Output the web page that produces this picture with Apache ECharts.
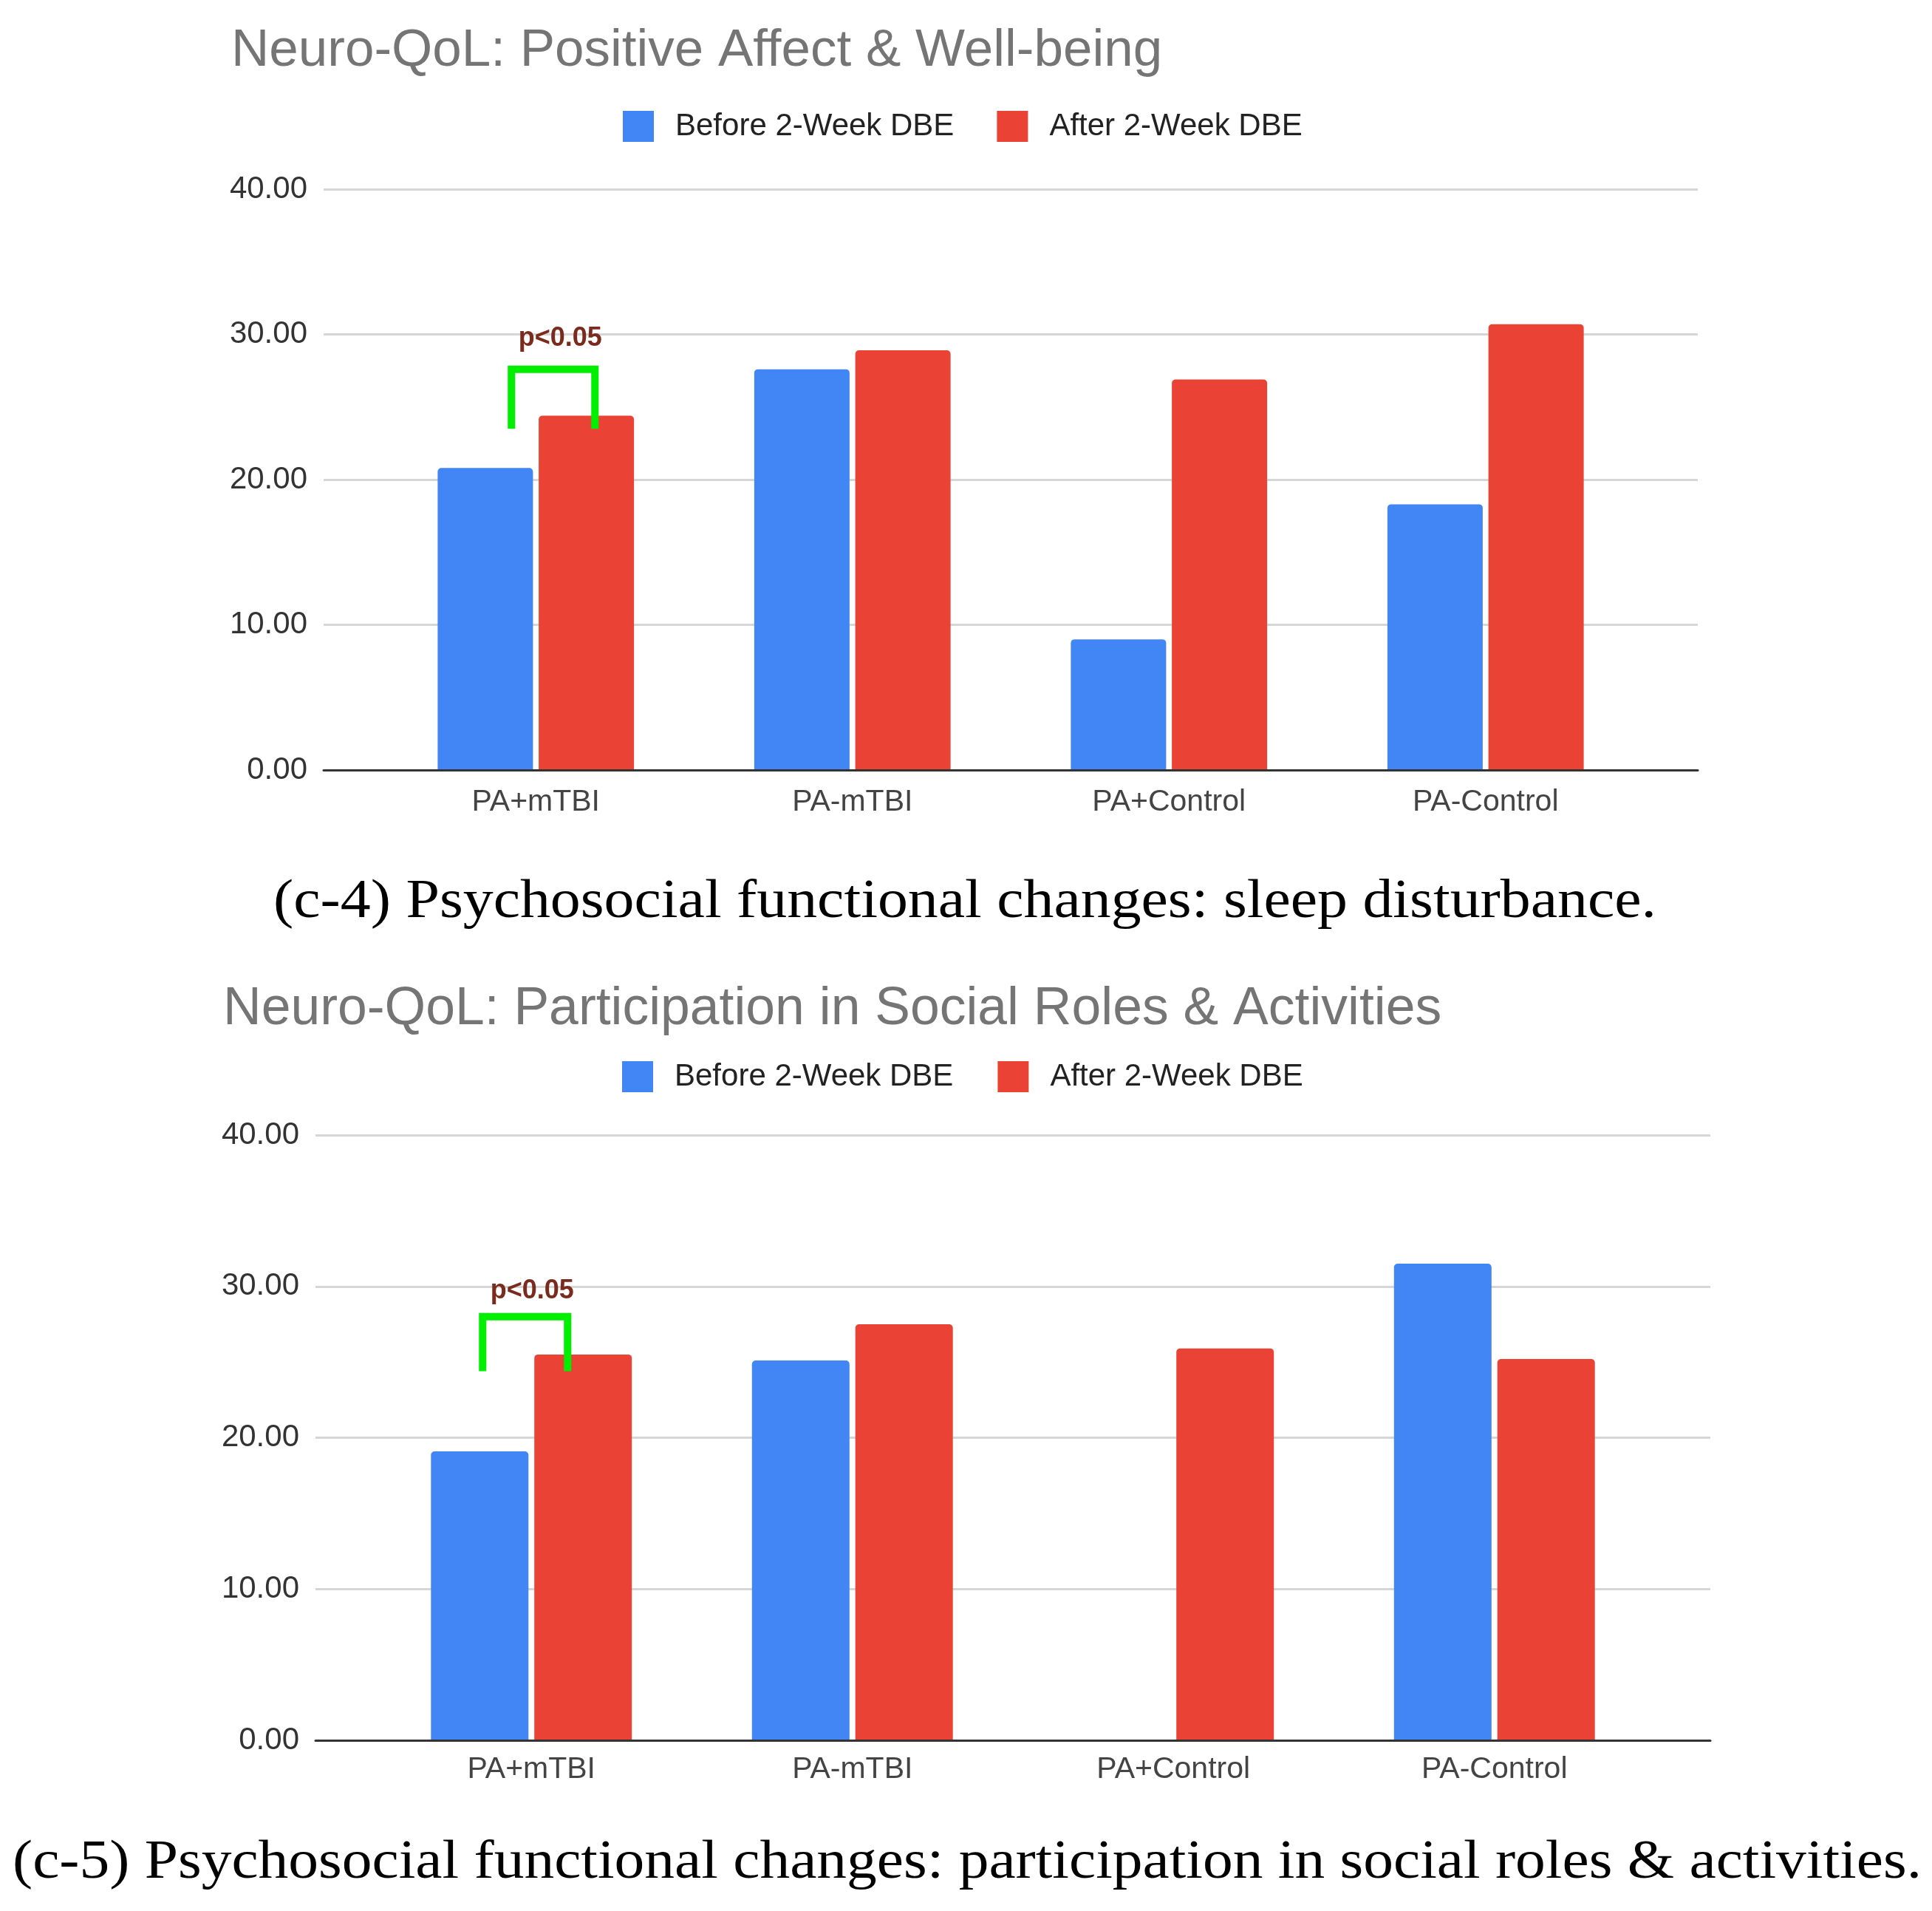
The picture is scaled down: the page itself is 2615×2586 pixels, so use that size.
<!DOCTYPE html>
<html>
<head>
<meta charset="utf-8">
<script src="https://cdn.jsdelivr.net/npm/echarts@6/dist/echarts.min.js"></script>
<style>
  html, body { margin: 0; padding: 0; background: #fff; }
  #main { width: 2615px; height: 2586px; }
</style>
</head>
<body>
<div id="main"></div>
<script>
// data
var categories = ['PA+mTBI', 'PA-mTBI', 'PA+Control', 'PA-Control'];
var seriesNames = ['Before 2-Week DBE', 'After 2-Week DBE'];

var positiveBefore = [20.8, 27.6, 9.0, 18.3];
var positiveAfter = [24.4, 28.9, 26.9, 30.7];

var socialBefore = [19.1, 25.1, 0, 31.5];
var socialAfter = [25.5, 27.5, 25.9, 25.2];

var yMin = 0, yMax = 40, yStep = 10;

// significance brackets: [category index, bracket bottom, bracket top, label level]
var sigPositive = [[0, 23.5, 27.6, 29.7]];
var sigSocial = [[0, 24.4, 28.0, 29.7]];
var sigText = 'p<0.05';

var titleA = 'Neuro-QoL: Positive Affect & Well-being';
var titleB = 'Neuro-QoL: Participation in Social Roles & Activities';
var captionA = '(c-4) Psychosocial functional changes: sleep disturbance.';
var captionB = '(c-5) Psychosocial functional changes: participation in social roles & activities.';

var BLUE = '#4285f4', RED = '#ea4335';
var SANS = '"Liberation Sans", Arial, sans-serif';
var SERIF = '"Liberation Serif", "Times New Roman", serif';

var myChart = echarts.init(document.getElementById('main'));

// panel layout (frame = gridline extent, bars = category band)
var panels = [
    { frame: { left: 438, top: 256, width: 1860, height: 786 },
      bars: { left: 511, top: 256, width: 1714, height: 786 },
      barWidth: 129, labelMargin: 23, bracket: { dl: -33, dr: 80, dt: 33 } },
    { frame: { left: 427, top: 1536, width: 1888, height: 819 },
      bars: { left: 502, top: 1536, width: 1738, height: 819 },
      barWidth: 132, labelMargin: 19, bracket: { dl: -66, dr: 49, dt: 1 } }
];

function frameX(grid) {
    return {
        type: 'value', gridIndex: grid, min: 0, max: 1, z: 5,
        axisLine: { show: true, onZero: false, lineStyle: { color: '#333', width: 3 } },
        axisTick: { show: false }, axisLabel: { show: false }, splitLine: { show: false }
    };
}
function frameY(grid) {
    return {
        type: 'value', gridIndex: grid, min: yMin, max: yMax, interval: yStep,
        axisLine: { show: false }, axisTick: { show: false },
        axisLabel: {
            fontSize: 42, color: '#333', margin: 22, fontFamily: SANS,
            formatter: function (v) { return v.toFixed(2); }
        },
        splitLine: { show: true, lineStyle: { color: '#d6d6d6', width: 3 } }
    };
}
function barsX(grid, margin) {
    return {
        type: 'category', gridIndex: grid, data: categories,
        axisLine: { show: false }, axisTick: { show: false },
        axisLabel: { fontSize: 41, color: '#444', margin: margin, fontFamily: SANS }
    };
}
function barsY(grid) {
    return { type: 'value', gridIndex: grid, min: yMin, max: yMax, interval: yStep, show: false };
}

function bracketSeries(axisIdx, data, off) {
    return {
        type: 'custom', xAxisIndex: axisIdx, yAxisIndex: axisIdx, z: 10, silent: true,
        data: data,
        renderItem: function (params, api) {
            var low = api.coord([api.value(0), api.value(1)]);
            var top = api.coord([api.value(0), api.value(2)]);
            var lab = api.coord([api.value(0), api.value(3)]);
            var cx = low[0];
            return {
                type: 'group',
                children: [{
                    type: 'polyline',
                    shape: { points: [[cx + off.dl, low[1]], [cx + off.dl, top[1]], [cx + off.dr, top[1]], [cx + off.dr, low[1]]] },
                    style: { stroke: '#00ee00', lineWidth: 10, fill: null, lineJoin: 'miter' }
                }, {
                    type: 'text',
                    x: cx + off.dt, y: lab[1],
                    style: { text: sigText, align: 'center', verticalAlign: 'middle',
                             font: 'bold 36px ' + SANS, fill: '#7b2a1e' }
                }]
            };
        }
    };
}

function barSeries(name, data, color, axisIdx, width) {
    return {
        name: name, type: 'bar', xAxisIndex: axisIdx, yAxisIndex: axisIdx,
        data: data, barWidth: width, barGap: '6%',
        itemStyle: { color: color, borderRadius: [5, 5, 0, 0] }
    };
}

// captions: serif, stretched to the width they have in the picture
function fitScale(text, size, target) {
    var ctx = document.createElement('canvas').getContext('2d');
    ctx.font = size + 'px ' + SERIF;
    return target / ctx.measureText(text).width;
}
var capSize = 73;

myChart.setOption({
    animation: false,
    backgroundColor: '#fff',
    textStyle: { fontFamily: SANS },
    title: [
        { text: titleA, left: 313, top: 34, padding: 0,
          textStyle: { fontSize: 71, fontWeight: 'normal', color: '#757575' } },
        { text: titleB, left: 302, top: 1330, padding: 0,
          textStyle: { fontSize: 71.5, fontWeight: 'normal', color: '#757575' } }
    ],
    legend: [
        { data: seriesNames, left: 843, top: 150, padding: 0, icon: 'rect',
          itemWidth: 42, itemHeight: 42, itemGap: 58,
          textStyle: { fontSize: 42, color: '#222', padding: [0, 0, 0, 24] } },
        { data: seriesNames, left: 842, top: 1436, padding: 0, icon: 'rect',
          itemWidth: 42, itemHeight: 42, itemGap: 60,
          textStyle: { fontSize: 42, color: '#222', padding: [0, 0, 0, 24] } }
    ],
    grid: [panels[0].frame, panels[0].bars, panels[1].frame, panels[1].bars],
    xAxis: [frameX(0), barsX(1, panels[0].labelMargin), frameX(2), barsX(3, panels[1].labelMargin)],
    yAxis: [frameY(0), barsY(1), frameY(2), barsY(3)],
    series: [
        barSeries(seriesNames[0], positiveBefore, BLUE, 1, panels[0].barWidth),
        barSeries(seriesNames[1], positiveAfter, RED, 1, panels[0].barWidth),
        bracketSeries(1, sigPositive, panels[0].bracket),
        barSeries(seriesNames[0], socialBefore, BLUE, 3, panels[1].barWidth),
        barSeries(seriesNames[1], socialAfter, RED, 3, panels[1].barWidth),
        bracketSeries(3, sigSocial, panels[1].bracket)
    ],
    graphic: [
        { type: 'text', x: 1306, y: 1222, scaleX: fitScale(captionA, capSize, 1872),
          style: { text: captionA, align: 'center', verticalAlign: 'middle',
                   font: capSize + 'px ' + SERIF, fill: '#000' } },
        { type: 'text', x: 1309, y: 2522, scaleX: fitScale(captionB, capSize, 2584),
          style: { text: captionB, align: 'center', verticalAlign: 'middle',
                   font: capSize + 'px ' + SERIF, fill: '#000' } }
    ]
});
</script>
</body>
</html>
